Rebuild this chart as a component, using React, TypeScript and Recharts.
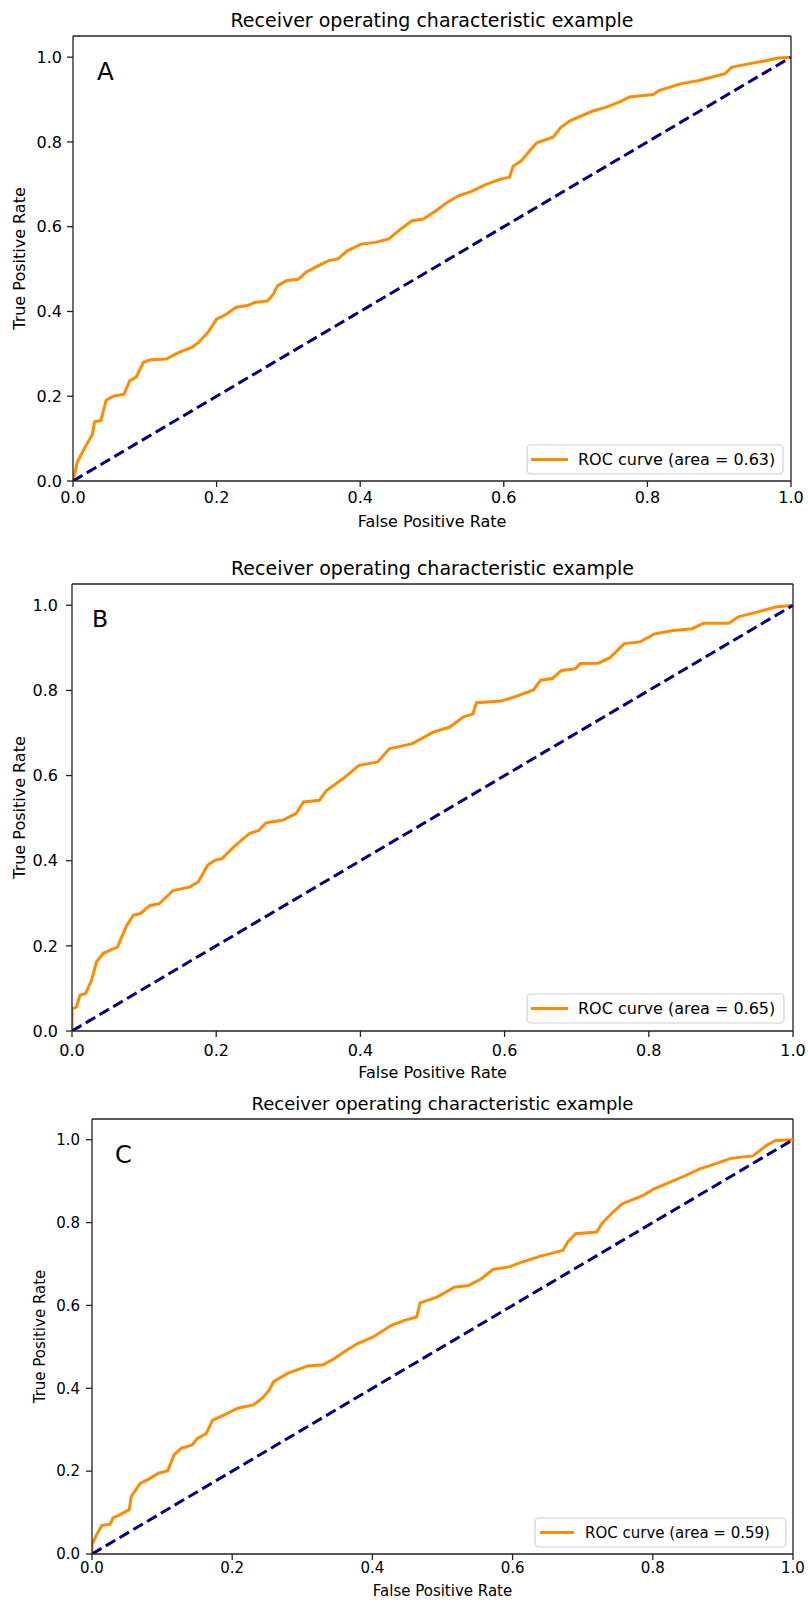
import { Line, LineChart, ReferenceLine, XAxis, YAxis } from 'recharts';

// ROC points (false positive rate / true positive rate)
const fprA = [0, 0.006, 0.017, 0.027, 0.03, 0.039, 0.046, 0.056, 0.071, 0.079, 0.088, 0.098, 0.108, 0.13, 0.143, 0.166, 0.175, 0.188, 0.2, 0.214, 0.227, 0.243, 0.253, 0.271, 0.279, 0.285, 0.298, 0.314, 0.324, 0.337, 0.356, 0.369, 0.382, 0.401, 0.421, 0.44, 0.453, 0.472, 0.488, 0.505, 0.521, 0.537, 0.556, 0.575, 0.595, 0.608, 0.613, 0.624, 0.64, 0.646, 0.669, 0.679, 0.692, 0.724, 0.743, 0.763, 0.775, 0.808, 0.817, 0.846, 0.872, 0.885, 0.908, 0.917, 0.937, 0.963, 0.982, 1];
const tprA = [0, 0.045, 0.08, 0.11, 0.14, 0.143, 0.19, 0.2, 0.205, 0.237, 0.245, 0.28, 0.286, 0.288, 0.3, 0.316, 0.327, 0.351, 0.382, 0.394, 0.41, 0.414, 0.421, 0.425, 0.441, 0.461, 0.473, 0.476, 0.492, 0.504, 0.52, 0.524, 0.543, 0.559, 0.563, 0.571, 0.59, 0.614, 0.618, 0.637, 0.657, 0.673, 0.684, 0.7, 0.712, 0.717, 0.743, 0.755, 0.787, 0.798, 0.812, 0.834, 0.85, 0.873, 0.882, 0.896, 0.906, 0.912, 0.922, 0.937, 0.945, 0.951, 0.961, 0.976, 0.983, 0.991, 0.998, 1];

const fprB = [0, 0, 0.006, 0.011, 0.019, 0.027, 0.034, 0.043, 0.053, 0.063, 0.069, 0.076, 0.085, 0.095, 0.108, 0.121, 0.14, 0.163, 0.175, 0.188, 0.198, 0.208, 0.224, 0.246, 0.259, 0.269, 0.292, 0.311, 0.321, 0.343, 0.353, 0.376, 0.398, 0.424, 0.44, 0.472, 0.501, 0.524, 0.543, 0.556, 0.561, 0.595, 0.614, 0.64, 0.65, 0.666, 0.679, 0.698, 0.705, 0.73, 0.746, 0.766, 0.788, 0.808, 0.834, 0.86, 0.876, 0.911, 0.924, 0.95, 0.976, 1];
const tprB = [0, 0.052, 0.056, 0.084, 0.088, 0.119, 0.162, 0.182, 0.19, 0.197, 0.221, 0.248, 0.272, 0.276, 0.295, 0.299, 0.33, 0.338, 0.35, 0.389, 0.401, 0.405, 0.432, 0.464, 0.471, 0.489, 0.495, 0.511, 0.538, 0.542, 0.565, 0.593, 0.624, 0.632, 0.663, 0.675, 0.702, 0.714, 0.738, 0.745, 0.771, 0.775, 0.785, 0.801, 0.824, 0.828, 0.847, 0.851, 0.863, 0.864, 0.877, 0.91, 0.914, 0.933, 0.941, 0.945, 0.958, 0.958, 0.973, 0.984, 0.996, 1];

const fprC = [0, 0, 0.006, 0.014, 0.026, 0.03, 0.04, 0.053, 0.056, 0.069, 0.079, 0.095, 0.108, 0.117, 0.127, 0.143, 0.15, 0.163, 0.172, 0.188, 0.208, 0.23, 0.243, 0.253, 0.259, 0.279, 0.308, 0.33, 0.346, 0.363, 0.379, 0.401, 0.427, 0.446, 0.463, 0.468, 0.492, 0.517, 0.537, 0.556, 0.572, 0.595, 0.614, 0.64, 0.672, 0.679, 0.69, 0.72, 0.727, 0.743, 0.756, 0.788, 0.801, 0.824, 0.846, 0.866, 0.888, 0.911, 0.943, 0.962, 0.975, 1];
const tprC = [0, 0.022, 0.045, 0.069, 0.072, 0.087, 0.095, 0.107, 0.139, 0.171, 0.179, 0.195, 0.201, 0.239, 0.255, 0.263, 0.279, 0.291, 0.323, 0.335, 0.352, 0.36, 0.376, 0.396, 0.416, 0.436, 0.454, 0.457, 0.472, 0.492, 0.508, 0.524, 0.552, 0.564, 0.572, 0.606, 0.62, 0.644, 0.648, 0.665, 0.687, 0.693, 0.705, 0.719, 0.733, 0.754, 0.773, 0.777, 0.797, 0.825, 0.845, 0.867, 0.881, 0.897, 0.913, 0.929, 0.941, 0.955, 0.961, 0.986, 0.998, 1];

const chanceX = [0, 1];
const chanceY = [0, 1];

const xTicks = [0, 0.2, 0.4, 0.6, 0.8, 1.0];
const yTicks = [0, 0.2, 0.4, 0.6, 0.8, 1.0];

const TITLE = 'Receiver operating characteristic example';
const FONT = '"DejaVu Sans", sans-serif';
const ORANGE = '#ff8c00';
const NAVY = '#000080';
const SPINE = '#222';

type Panel = {
    letter: string;
    area: string;
    fpr: number[];
    tpr: number[];
    top: number; bottom: number;           // svg band on the page
    left: number; right: number;           // plot edges (x=0, x=1)
    plotTop: number; plotBottom: number;   // y=1.05 and y=0
    font: number;
    xTickMargin: number; yTickMargin: number;
    titleBase: number; xLabelBase: number; yLabelBase: number;
    letterX: number; letterBase: number; letterSize: number;
    legend: { x: number; y: number; w: number; h: number; lineX1: number; lineX2: number; textX: number; textBase: number };
};

const panels: Panel[] = [
    {
        letter: 'A', area: '0.63', fpr: fprA, tpr: tprA,
        top: 0, bottom: 540, left: 73, right: 791, plotTop: 36, plotBottom: 481,
        font: 16, xTickMargin: 5, yTickMargin: 5,
        titleBase: 27, xLabelBase: 527, yLabelBase: 25,
        letterX: 97, letterBase: 80, letterSize: 24.5,
        legend: { x: 527, y: 445, w: 256, h: 29, lineX1: 531, lineX2: 568, textX: 578, textBase: 465 },
    },
    {
        letter: 'B', area: '0.65', fpr: fprB, tpr: tprB,
        top: 540, bottom: 1090, left: 72, right: 793, plotTop: 584, plotBottom: 1031,
        font: 16, xTickMargin: 8, yTickMargin: 8,
        titleBase: 575, xLabelBase: 1078, yLabelBase: 25,
        letterX: 92, letterBase: 627, letterSize: 23.5,
        legend: { x: 527, y: 994, w: 257, h: 29, lineX1: 531, lineX2: 568, textX: 578, textBase: 1014 },
    },
    {
        letter: 'C', area: '0.59', fpr: fprC, tpr: tprC,
        top: 1090, bottom: 1603, left: 92, right: 793, plotTop: 1119, plotBottom: 1554,
        font: 15, xTickMargin: 2, yTickMargin: 6,
        titleBase: 1110, xLabelBase: 1596, yLabelBase: 45,
        letterX: 115, letterBase: 1163, letterSize: 24,
        legend: { x: 535, y: 1518, w: 251, h: 29, lineX1: 540, lineX2: 574, textX: 585, textBase: 1538 },
    },
];

function RocPanel({ p }: { p: Panel }) {
    const rows = p.fpr.map((f, i) => ({ fpr: f, tpr: p.tpr[i] }));
    const diag = chanceX.map((f, i) => ({ fpr: f, tpr: chanceY[i] }));
    const tick = { fill: '#000', fontSize: p.font, fontFamily: FONT };

    return (
        <div style={{ position: 'absolute', left: 0, top: p.top }}>
            <LineChart
                width={808}
                height={p.bottom - p.top}
                margin={{ top: p.plotTop - p.top, right: 808 - p.right, bottom: 0, left: 0 }}
            >
                <XAxis
                    type="number"
                    dataKey="fpr"
                    domain={[0, 1]}
                    ticks={xTicks}
                    tickFormatter={(v: number) => v.toFixed(1)}
                    height={p.bottom - p.plotBottom}
                    tickSize={6}
                    tickMargin={p.xTickMargin}
                    stroke={SPINE}
                    strokeWidth={1.3}
                    tick={tick}
                    allowDataOverflow
                />
                <YAxis
                    type="number"
                    domain={[0, 1.05]}
                    ticks={yTicks}
                    tickFormatter={(v: number) => v.toFixed(1)}
                    width={p.left}
                    tickSize={6}
                    tickMargin={p.yTickMargin}
                    stroke={SPINE}
                    strokeWidth={1.3}
                    tick={tick}
                    allowDataOverflow
                />
                <ReferenceLine y={1.05} stroke={SPINE} strokeWidth={1.3} />
                <ReferenceLine x={1} stroke={SPINE} strokeWidth={1.3} />
                <Line
                    data={rows}
                    dataKey="tpr"
                    type="linear"
                    stroke={ORANGE}
                    strokeWidth={3}
                    dot={false}
                    activeDot={false}
                    isAnimationActive={false}
                />
                <Line
                    data={diag}
                    dataKey="tpr"
                    type="linear"
                    stroke={NAVY}
                    strokeWidth={3}
                    strokeDasharray="11 5"
                    dot={false}
                    activeDot={false}
                    isAnimationActive={false}
                />
            </LineChart>
        </div>
    );
}

function Annotations() {
    return (
        <svg
            width={808}
            height={1603}
            style={{ position: 'absolute', left: 0, top: 0, pointerEvents: 'none' }}
            fontFamily={FONT}
        >
            {panels.map(p => {
                const cx = (p.left + p.right) / 2;
                const cy = (p.plotTop + p.plotBottom) / 2;
                const lg = p.legend;
                return (
                    <g key={p.letter}>
                        <text x={cx} y={p.titleBase} fontSize={p.font + 3} textAnchor="middle" fill="#000">{TITLE}</text>
                        <text x={cx} y={p.xLabelBase} fontSize={p.font} textAnchor="middle" fill="#000">False Positive Rate</text>
                        <text
                            x={p.yLabelBase}
                            y={cy}
                            fontSize={p.font}
                            textAnchor="middle"
                            fill="#000"
                            transform={`rotate(-90 ${p.yLabelBase} ${cy})`}
                        >True Positive Rate</text>
                        <text x={p.letterX} y={p.letterBase} fontSize={p.letterSize} fill="#000">{p.letter}</text>
                        <rect x={lg.x} y={lg.y} width={lg.w} height={lg.h} rx={4} fill="#fff" fillOpacity={0.85} stroke="#d0d0d0" strokeWidth={1.2} />
                        <line x1={lg.lineX1} x2={lg.lineX2} y1={lg.y + lg.h / 2} y2={lg.y + lg.h / 2} stroke={ORANGE} strokeWidth={3} />
                        <text x={lg.textX} y={lg.textBase} fontSize={p.font} fill="#000">{`ROC curve (area = ${p.area})`}</text>
                    </g>
                );
            })}
        </svg>
    );
}

export default function App() {
    return (
        <div style={{ position: 'absolute', left: 0, top: 0, width: 808, height: 1603, background: '#fff', fontFamily: FONT }}>
            {panels.map(p => <RocPanel key={p.letter} p={p} />)}
            <Annotations />
        </div>
    );
}
